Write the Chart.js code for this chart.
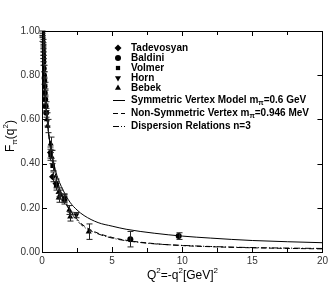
<!DOCTYPE html>
<html>
<head>
<meta charset="utf-8">
<script src="https://cdn.jsdelivr.net/npm/chart.js@4.4.1/dist/chart.umd.min.js"></script>
<style>
html, body { margin: 0; padding: 0; background: #fff; }
#wrap { width: 331px; height: 282px; }
</style>
</head>
<body>
<div id="wrap"><canvas id="ffChart" width="331" height="282"></canvas></div>
<script>
// data
const xTickVals = [0, 5, 10, 15, 20];
const yTickVals = [0.0, 0.2, 0.4, 0.6, 0.8, 1.0];

const tadQ2 = [0.60, 0.75, 1.00, 1.60];
const tadF = [0.450, 0.340, 0.310, 0.235];
const tadErr = [0.025, 0.022, 0.020, 0.018];

const balQ2 = [0.01, 0.02, 0.03, 0.04, 0.05, 0.06, 0.07, 0.08, 0.09, 0.10, 0.12, 0.14, 0.16, 0.18, 0.20, 0.23, 0.26, 0.30, 6.30, 9.75];
const balF = [0.99, 0.98, 0.965, 0.95, 0.935, 0.92, 0.905, 0.89, 0.875, 0.86, 0.83, 0.80, 0.775, 0.75, 0.72, 0.69, 0.66, 0.63, 0.058, 0.072];
const balErr = [0.01, 0.01, 0.012, 0.012, 0.012, 0.012, 0.014, 0.014, 0.014, 0.015, 0.015, 0.016, 0.016, 0.018, 0.018, 0.02, 0.02, 0.02, 0.035, 0.015];

const volQ2 = [0.60, 0.75, 1.00, 1.60];
const volF = [0.440, 0.390, 0.300, 0.245];
const volErr = [0.025, 0.022, 0.020, 0.018];

const hornQ2 = [1.60, 2.45];
const hornF = [0.243, 0.167];
const hornErr = [0.018, 0.012];

const bebQ2 = [0.35, 0.40, 0.62, 0.70, 1.18, 1.19, 1.30, 1.94, 2.01, 3.33];
const bebF = [0.600, 0.570, 0.490, 0.430, 0.270, 0.245, 0.260, 0.190, 0.160, 0.092];
const bebErr = [0.03, 0.03, 0.03, 0.03, 0.02, 0.02, 0.02, 0.02, 0.02, 0.035];

const curveQ2 = [0, 0.05, 0.1, 0.2, 0.3, 0.4, 0.5, 0.6, 0.8, 1.0, 1.25, 1.5, 2, 2.5, 3, 4, 5, 6, 8, 10, 12, 15, 20];
const symF = [1.0, 0.91, 0.84, 0.73, 0.645, 0.58, 0.525, 0.48, 0.415, 0.36, 0.315, 0.28, 0.225, 0.19, 0.165, 0.133, 0.117, 0.103, 0.085, 0.072, 0.063, 0.052, 0.042];
const nonSymF = [1.0, 0.91, 0.84, 0.73, 0.645, 0.58, 0.52, 0.475, 0.405, 0.345, 0.29, 0.25, 0.19, 0.148, 0.118, 0.085, 0.066, 0.053, 0.038, 0.029, 0.024, 0.019, 0.014];
const dispF = [1.0, 0.91, 0.84, 0.73, 0.645, 0.58, 0.52, 0.47, 0.40, 0.34, 0.285, 0.245, 0.185, 0.143, 0.113, 0.082, 0.063, 0.051, 0.037, 0.030, 0.025, 0.020, 0.016];

function pts(xs, ys) {
	return xs.map((x, i) => ({ x: x, y: ys[i] }));
}

function markerSet(label, xs, ys, errs, style, rot, r) {
	return {
		label: label, data: pts(xs, ys), errs: errs,
		pointStyle: style, rotation: rot, pointRadius: r,
		backgroundColor: '#000', borderColor: '#000', borderWidth: 0,
		showLine: false
	};
}

function curveSet(label, ys, dash) {
	return {
		label: label, data: pts(curveQ2, ys), showLine: true,
		borderColor: '#000', borderWidth: 1, borderDash: dash,
		pointRadius: 0, cubicInterpolationMode: 'monotone', fill: false
	};
}

const datasets = [
	markerSet('Tadevosyan', tadQ2, tadF, tadErr, 'rectRot', 0, 3.5),
	markerSet('Baldini', balQ2, balF, balErr, 'circle', 0, 3),
	markerSet('Volmer', volQ2, volF, volErr, 'rect', 0, 3),
	markerSet('Horn', hornQ2, hornF, hornErr, 'triangle', 180, 3.5),
	markerSet('Bebek', bebQ2, bebF, bebErr, 'triangle', 0, 3.5),
	curveSet('Symmetric Vertex Model', symF, []),
	curveSet('Non-Symmetric Vertex', nonSymF, [5, 3]),
	curveSet('Dispersion Relations n=3', dispF, [6, 2, 1, 2])
];

// legend rows: text, with optional subscript part
const legendRows = [
	['Tadevosyan'], ['Baldini'], ['Volmer'], ['Horn'], ['Bebek'],
	['Symmetric Vertex Model m', 'π', '=0.6 GeV'],
	['Non-Symmetric Vertex m', 'π', '=0.946 MeV'],
	['Dispersion Relations n=3']
];
const legendY = [48, 58, 68, 78, 88, 100, 113, 126];

const errorBars = {
	id: 'errorBars',
	afterDatasetsDraw(chart) {
		const ctx = chart.ctx, xs = chart.scales.x, ys = chart.scales.y;
		ctx.save();
		ctx.strokeStyle = '#222';
		ctx.lineWidth = 1;
		chart.data.datasets.forEach(ds => {
			if (!ds.errs) return;
			ds.data.forEach((p, i) => {
				const px = Math.round(xs.getPixelForValue(p.x)) + 0.5;
				const y1 = ys.getPixelForValue(p.y + ds.errs[i]);
				const y2 = ys.getPixelForValue(p.y - ds.errs[i]);
				ctx.beginPath();
				ctx.moveTo(px, y1); ctx.lineTo(px, y2);
				ctx.moveTo(px - 3, y1); ctx.lineTo(px + 3, y1);
				ctx.moveTo(px - 3, y2); ctx.lineTo(px + 3, y2);
				ctx.stroke();
			});
		});
		ctx.restore();
	}
};

const frame = {
	id: 'frame',
	afterDraw(chart) {
		const ctx = chart.ctx, a = chart.chartArea, xs = chart.scales.x, ys = chart.scales.y;
		ctx.save();
		ctx.strokeStyle = '#000';
		ctx.lineWidth = 1;
		ctx.strokeRect(Math.round(a.left) + 0.5, Math.round(a.top) + 0.5, Math.round(a.right - a.left), Math.round(a.bottom - a.top));
		ctx.beginPath();
		for (let v = 0; v <= 20; v += 2.5) {
			const px = Math.round(xs.getPixelForValue(v)) + 0.5;
			const len = (v % 5 === 0) ? 5 : 4;
			ctx.moveTo(px, a.bottom); ctx.lineTo(px, a.bottom - len);
			ctx.moveTo(px, a.top); ctx.lineTo(px, a.top + len);
		}
		yTickVals.forEach(v => {
			const py = Math.round(ys.getPixelForValue(v)) + 0.5;
			ctx.moveTo(a.left, py); ctx.lineTo(a.left + 5, py);
			ctx.moveTo(a.right, py); ctx.lineTo(a.right - 5, py);
		});
		ctx.stroke();

		// axis titles
		ctx.fillStyle = '#000';
		ctx.textBaseline = 'alphabetic';
		let x0 = 147, yb = 279;
		const part = (t, f, dy) => { ctx.font = f; ctx.fillText(t, x0, yb + dy); x0 += ctx.measureText(t).width; };
		const big = '12px "Liberation Sans", Arial, sans-serif', sm = '8px "Liberation Sans", Arial, sans-serif';
		ctx.textAlign = 'left';
		part('Q', big, 0); part('2', sm, -6); part('=-q', big, 0); part('2', sm, -6); part('[GeV]', big, 0); part('2', sm, -6);

		ctx.save();
		ctx.translate(14, 152);
		ctx.rotate(-Math.PI / 2);
		x0 = 0; yb = 0;
		part('F', big, 0); part('π', sm, 3); part('(q', big, 0); part('2', sm, -6); part(')', big, 0);
		ctx.restore();

		// legend
		legendRows.forEach((row, i) => {
			const ds = chart.data.datasets[i];
			const cy = legendY[i];
			if (ds.showLine) {
				ctx.save();
				ctx.strokeStyle = '#000';
				ctx.lineWidth = 1;
				ctx.setLineDash(ds.borderDash || []);
				ctx.beginPath();
				ctx.moveTo(113, cy + 0.5); ctx.lineTo(125, cy + 0.5);
				ctx.stroke();
				ctx.restore();
			} else {
				ctx.fillStyle = '#000';
				Chart.helpers.drawPoint(ctx, { pointStyle: ds.pointStyle, rotation: ds.rotation, radius: ds.pointRadius, borderWidth: 0 }, 118, cy);
			}
			ctx.fillStyle = '#000';
			ctx.textBaseline = 'middle';
			x0 = 131; yb = cy;
			const bf = 'bold 10px "Liberation Sans", Arial, sans-serif', bs = 'bold 7px "Liberation Sans", Arial, sans-serif';
			part(row[0], bf, 0);
			if (row.length > 1) { part(row[1], bs, 3); part(row[2], bf, 0); }
		});
		ctx.restore();
	}
};

new Chart(document.getElementById('ffChart'), {
	type: 'scatter',
	data: { datasets: datasets },
	options: {
		responsive: false,
		animation: false,
		layout: { padding: { top: 31, right: 5, left: 0, bottom: 0 } },
		plugins: { legend: { display: false }, tooltip: { enabled: false } },
		scales: {
			x: {
				type: 'linear', min: 0, max: 20,
				afterFit: s => { s.height = 30; },
				afterBuildTicks: s => { s.ticks = xTickVals.map(v => ({ value: v })); },
				grid: { display: false, drawTicks: false },
				border: { display: false },
				ticks: { padding: 3, color: '#333', font: { size: 10, family: '"Liberation Sans", Arial, sans-serif' }, maxRotation: 0 }
			},
			y: {
				type: 'linear', min: 0, max: 1,
				afterFit: s => { s.width = 42; },
				afterBuildTicks: s => { s.ticks = yTickVals.map(v => ({ value: v })); },
				grid: { display: false, drawTicks: false },
				border: { display: false },
				ticks: { padding: 2, color: '#333', font: { size: 10, family: '"Liberation Sans", Arial, sans-serif' }, callback: v => v.toFixed(2) }
			}
		}
	},
	plugins: [errorBars, frame]
});
</script>
</body>
</html>
